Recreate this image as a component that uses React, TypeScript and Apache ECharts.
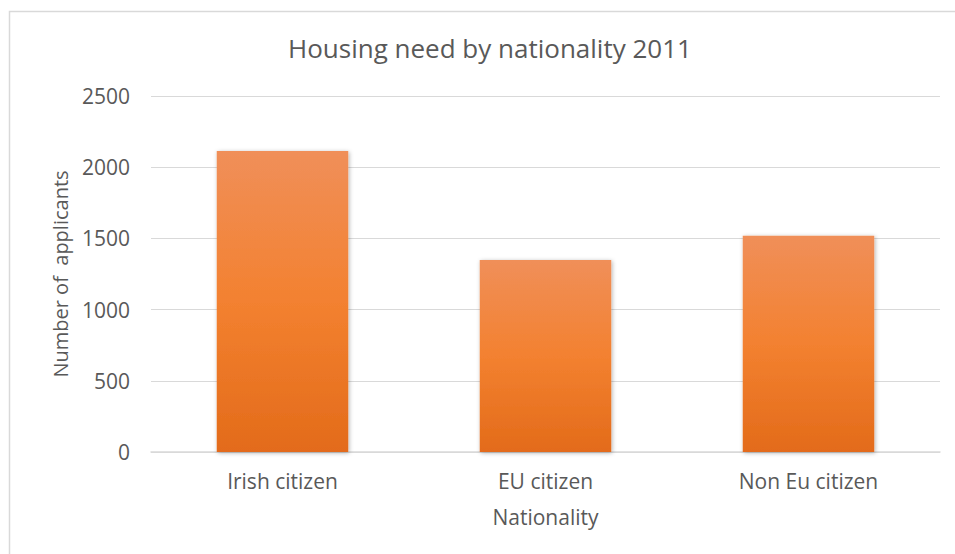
import React, { useEffect, useRef } from "react";
import * as echarts from "echarts";

const categories = ["Irish citizen", "EU citizen", "Non Eu citizen"];
const applicants = [2114, 1348, 1519];
const yTicks = { min: 0, max: 2500, interval: 500 };

export default function App() {
  const ref = useRef<HTMLDivElement>(null);
  useEffect(() => {
    const chart = echarts.init(ref.current!, null, { renderer: "svg" });
    const font = "'Open Sans', 'Liberation Sans', sans-serif";
    chart.setOption({
      animation: false,
      backgroundColor: "#ffffff",
      title: {
        text: "Housing need by nationality 2011",
        left: 283,
        top: 30,
        textStyle: { color: "#595959", fontSize: 26, fontWeight: "normal", fontFamily: font },
      },
      graphic: [
        {
          type: "rect",
          shape: { x: 9.5, y: 11.5, width: 1000, height: 600 },
          style: { fill: "none", stroke: "#D9D9D9", lineWidth: 1.5 },
          silent: true,
        },
      ],
      grid: { left: 151, right: 15, top: 96, bottom: 102 },
      xAxis: {
        type: "category",
        data: categories,
        name: "Nationality",
        nameLocation: "middle",
        nameGap: 54,
        nameTextStyle: { color: "#595959", fontSize: 21, fontFamily: font },
        axisLine: { lineStyle: { color: "#D9D9D9", width: 1.5 } },
        axisTick: { show: false },
        axisLabel: { color: "#595959", fontSize: 21, margin: 18, fontFamily: font },
      },
      yAxis: {
        type: "value",
        min: yTicks.min,
        max: yTicks.max,
        interval: yTicks.interval,
        name: "Number of  applicants",
        nameLocation: "middle",
        nameGap: 81,
        nameTextStyle: { color: "#595959", fontSize: 20, fontFamily: font },
        axisLine: { show: false },
        axisTick: { show: false },
        axisLabel: {
          color: "#595959",
          fontSize: 21,
          margin: 21,
          fontFamily: font,
          formatter: (v: number) => String(v),
        },
        splitLine: { lineStyle: { color: "#D9D9D9", width: 1 } },
      },
      series: [
        {
          type: "bar",
          data: applicants,
          barCategoryGap: "50%",
          itemStyle: {
            color: new echarts.graphic.LinearGradient(0, 0, 0, 1, [
              { offset: 0, color: "#F08F59" },
              { offset: 0.5, color: "#F38130" },
              { offset: 1, color: "#E36B1A" },
            ]),
            shadowColor: "rgba(0,0,0,0.3)",
            shadowBlur: 4,
            shadowOffsetX: 1,
            shadowOffsetY: 1,
          },
        },
      ],
    });
    return () => chart.dispose();
  }, []);
  return (
    <div
      ref={ref}
      style={{ position: "absolute", left: 0, top: 0, width: 955, height: 554 }}
    />
  );
}
